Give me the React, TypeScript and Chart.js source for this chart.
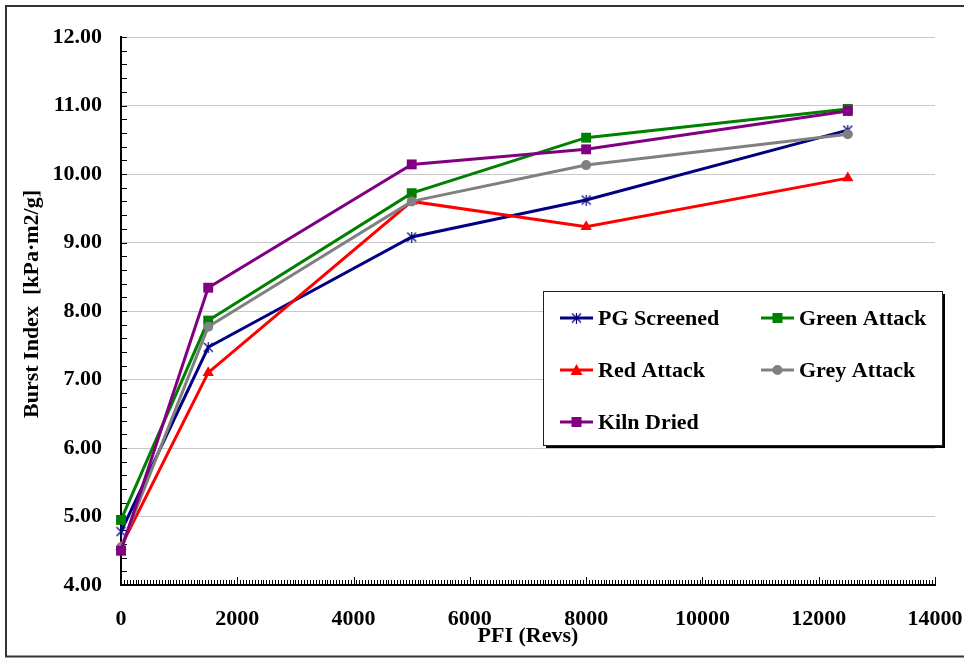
import { useEffect, useRef } from 'react';
import { Chart, registerables } from 'chart.js';

Chart.register(...registerables);

// PFI refining revolutions
const pfiRevs = [0, 1500, 5000, 8000, 12500];

// Burst index per pulp type [kPa·m2/g]
const pgScreened = [4.78, 7.47, 9.08, 9.62, 10.64];
const greenAttack = [4.95, 7.86, 9.72, 10.53, 10.95];
const redAttack = [4.56, 7.1, 9.6, 9.23, 9.94];
const greyAttack = [4.55, 7.77, 9.6, 10.13, 10.58];
const kilnDried = [4.5, 8.34, 10.14, 10.36, 10.92];

const seriesNames = ['PG Screened', 'Green Attack', 'Red Attack', 'Grey Attack', 'Kiln Dried'];
const seriesColors = ['#000080', '#008000', '#ff0000', '#808080', '#800080'];
const yTitle = 'Burst Index  [kPa·m2/g]';

const FONT_FAMILY = "'Liberation Serif', 'Times New Roman', serif";
const boldFont = { family: FONT_FAMILY, size: 22, weight: 'bold' as const };

// asterisk marker: an X with a vertical stroke
function makeStarMarker(color: string, size: number) {
  const c = document.createElement('canvas');
  c.width = size;
  c.height = size;
  const g = c.getContext('2d')!;
  g.strokeStyle = color;
  g.lineWidth = 1.2;
  const m = size / 2;
  const d = size / 2 - 1;
  g.beginPath();
  g.moveTo(m - d, m - d);
  g.lineTo(m + d, m + d);
  g.moveTo(m + d, m - d);
  g.lineTo(m - d, m + d);
  g.moveTo(m, 0);
  g.lineTo(m, size);
  g.stroke();
  return c;
}

function drawMarker(ctx: CanvasRenderingContext2D, style: any, color: string, x: number, y: number) {
  ctx.save();
  ctx.fillStyle = color;
  ctx.strokeStyle = color;
  if (style instanceof HTMLCanvasElement) {
    ctx.drawImage(style, x - style.width / 2, y - style.height / 2);
  } else if (style === 'rect') {
    ctx.fillRect(x - 5, y - 5, 10, 10);
  } else if (style === 'circle') {
    ctx.beginPath();
    ctx.arc(x, y, 5, 0, Math.PI * 2);
    ctx.fill();
  } else if (style === 'triangle') {
    ctx.beginPath();
    ctx.moveTo(x, y - 6);
    ctx.lineTo(x + 6, y + 5);
    ctx.lineTo(x - 6, y + 5);
    ctx.closePath();
    ctx.fill();
  }
  ctx.restore();
}

export default function App() {
  const canvasRef = useRef<HTMLCanvasElement | null>(null);

  useEffect(() => {
    const canvas = canvasRef.current;
    if (!canvas) return;

    const star = makeStarMarker('#000080', 11);
    const values = [pgScreened, greenAttack, redAttack, greyAttack, kilnDried];
    const styles: any[] = [star, 'rect', 'triangle', 'circle', 'rect'];
    const radii = [6, 7, 6.5, 5, 7];

    const datasets = values.map((vals, i) => ({
      label: seriesNames[i],
      data: pfiRevs.map((x, j) => ({ x, y: vals[j] })),
      borderColor: seriesColors[i],
      backgroundColor: seriesColors[i],
      borderWidth: 3,
      pointStyle: styles[i],
      pointRadius: radii[i],
      pointBorderWidth: 0,
      pointBackgroundColor: seriesColors[i],
      tension: 0,
      clip: false as any,
      order: values.length - 1 - i,
    }));

    const frame = {
      id: 'frame',
      beforeDraw(chart: any) {
        const { ctx, width, height } = chart;
        ctx.save();
        ctx.fillStyle = '#fff';
        ctx.fillRect(0, 0, width, height);
        ctx.restore();
      },
      beforeDatasetsDraw(chart: any) {
        const { ctx, chartArea, scales } = chart;
        const xs = scales.x;
        const ys = scales.y;
        ctx.save();
        ctx.strokeStyle = '#000';
        ctx.lineWidth = 1;
        ctx.beginPath();
        // y ticks every 0.2, pointing into the plot
        for (let k = 0; k <= 40; k++) {
          const v = 4 + k * 0.2;
          const py = Math.round(ys.getPixelForValue(v)) + 0.5;
          ctx.moveTo(chartArea.left, py);
          ctx.lineTo(chartArea.left + 6, py);
        }
        // x ticks every 50 revs, longer at major steps
        for (let k = 0; k <= 280; k++) {
          const v = k * 50;
          const px = Math.round(xs.getPixelForValue(v)) + 0.5;
          const len = v % 2000 === 0 ? 8 : 5;
          ctx.moveTo(px, chartArea.bottom);
          ctx.lineTo(px, chartArea.bottom - len);
        }
        ctx.stroke();

        // vertical axis title
        ctx.translate(32, 304);
        ctx.rotate(-Math.PI / 2);
        ctx.font = `bold 22px ${FONT_FAMILY}`;
        ctx.fillStyle = '#000';
        ctx.textAlign = 'center';
        ctx.textBaseline = 'middle';
        ctx.fillText(yTitle, 0, 0);
        ctx.restore();
      },
      afterDraw(chart: any) {
        const { ctx, width } = chart;
        // legend box
        const bx = 543;
        const by = 291;
        const bw = 399;
        const bh = 154;
        ctx.save();
        ctx.fillStyle = '#000';
        ctx.fillRect(bx + 3, by + 3, bw, bh);
        ctx.fillStyle = '#fff';
        ctx.fillRect(bx, by, bw, bh);
        ctx.strokeStyle = '#222';
        ctx.lineWidth = 1;
        ctx.strokeRect(bx + 0.5, by + 0.5, bw, bh);

        const cols = [560, 761];
        const rows = [318, 370, 422];
        ctx.font = `bold 22px ${FONT_FAMILY}`;
        ctx.textBaseline = 'middle';
        ctx.textAlign = 'left';
        seriesNames.forEach((name, i) => {
          const cx = cols[i % 2];
          const cy = rows[Math.floor(i / 2)];
          ctx.strokeStyle = seriesColors[i];
          ctx.lineWidth = 3;
          ctx.beginPath();
          ctx.moveTo(cx, cy);
          ctx.lineTo(cx + 33, cy);
          ctx.stroke();
          drawMarker(ctx, styles[i], seriesColors[i], cx + 16.5, cy);
          ctx.fillStyle = '#000';
          ctx.fillText(name, cx + 38, cy + 1);
        });

        // outer frame: top, left and bottom edges
        ctx.strokeStyle = '#333';
        ctx.lineWidth = 2;
        ctx.beginPath();
        ctx.moveTo(width, 6);
        ctx.lineTo(6, 6);
        ctx.lineTo(6, 656.5);
        ctx.lineTo(width, 656.5);
        ctx.stroke();
        ctx.restore();
      },
    };

    const chart = new Chart(canvas, {
      type: 'line',
      data: { datasets: datasets as any },
      options: {
        responsive: false,
        animation: false,
        devicePixelRatio: 1,
        layout: { padding: { left: 0, top: 37, right: 29, bottom: 0 } },
        plugins: {
          legend: { display: false },
          tooltip: { enabled: false },
        },
        scales: {
          x: {
            type: 'linear',
            min: 0,
            max: 14000,
            afterFit(scale: any) {
              scale.height = 73;
            },
            ticks: {
              stepSize: 2000,
              padding: 0,
              font: boldFont,
              color: '#000',
              maxRotation: 0,
              autoSkip: false,
              callback: (v: any) => String(v),
            },
            // tick marks are hidden; their length only offsets the labels
            grid: { display: false, drawTicks: true, tickLength: 21 },
            border: { display: true, color: '#000', width: 2 },
            title: {
              display: true,
              text: 'PFI (Revs)',
              font: boldFont,
              color: '#000',
              padding: { top: 0, bottom: 8 },
            },
          },
          y: {
            type: 'linear',
            min: 4,
            max: 12,
            afterFit(scale: any) {
              scale.width = 121;
            },
            ticks: {
              stepSize: 1,
              padding: 19,
              font: boldFont,
              color: '#000',
              callback: (v: any) => Number(v).toFixed(2),
            },
            grid: { color: '#c8c8c8', lineWidth: 1, drawTicks: false },
            border: { display: true, color: '#000', width: 2 },
            title: { display: false },
          },
        },
      },
      plugins: [frame],
    });

    return () => chart.destroy();
  }, []);

  return (
    <div style={{ position: 'absolute', left: 0, top: 0, width: 964, height: 658 }}>
      <canvas ref={canvasRef} width={964} height={658} style={{ display: 'block' }} />
    </div>
  );
}
